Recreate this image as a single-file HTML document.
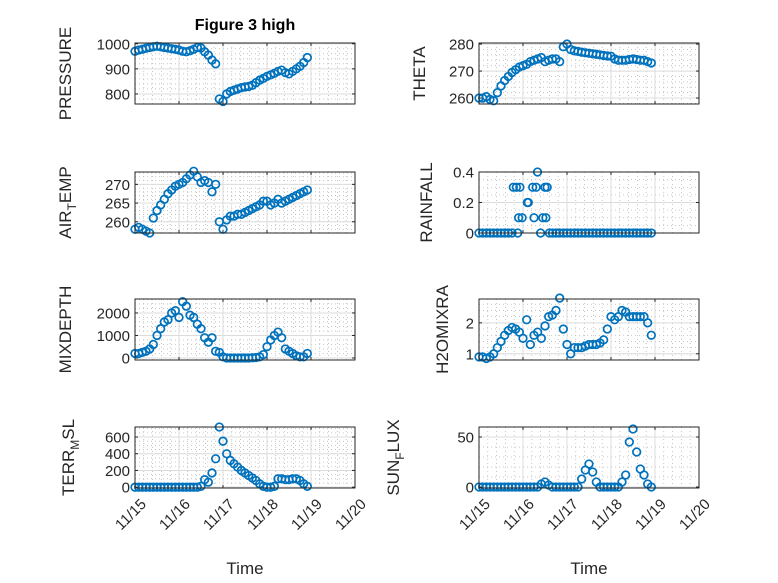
<!DOCTYPE html>
<html><head><meta charset="utf-8"><style>
body{margin:0;background:#fff;}
svg{display:block;font-family:"Liberation Sans","DejaVu Sans",sans-serif;}
</style></head><body>
<svg id="fig" width="778" height="583">
<rect width="778" height="583" fill="#fff"/>
<text x="245" y="30" text-anchor="middle" font-size="16" font-weight="bold" fill="#000">Figure 3 high</text>
</svg>
<script>
// time grid: days after 11/15, every 2 hours
const days = [];
for (let i = 0; i < 48; i++) days.push(i / 12);
const xTickLabels = ['11/15','11/16','11/17','11/18','11/19','11/20'];
const pressure = [970,975,978,982,985,988,990,988,985,983,980,978,975,970,968,972,978,985,983,968,955,935,920,780,770,800,810,815,820,825,828,830,835,845,855,862,870,876,882,890,895,885,880,890,900,910,925,945];
const airTemp = [258,258.5,258,257.5,257,261,263,264.5,266,267.5,268.5,269.5,270,270.5,271.5,272.5,273.5,272,270.5,271,270.5,268,270,260,258,260.5,261.5,261.5,262,262,262.5,263,263.5,264,264.5,265.5,265.5,264.5,265,266,265,265.5,266,266.5,267,267.5,268,268.5];
const theta = [260,260,260.5,259.5,259,262,264.5,266.5,268,269.5,270.5,271.5,272,272.5,273.5,274,274.5,275,273.5,274,274.5,274.5,273.5,279,280,278,277.5,277.3,277,276.8,276.6,276.4,276.2,276,275.8,275.6,275.5,274.5,274,274,274,274.3,274.5,274.3,274,274,273.5,273];
const mixDepth = [200,200,250,300,400,600,1000,1300,1600,1700,2000,2100,1800,2500,2300,1900,1800,1500,1300,900,700,900,300,250,50,0,0,0,0,0,0,0,10,20,50,150,500,800,1000,1150,900,400,300,200,100,50,50,200];
const h2o = [0.9,0.9,0.85,0.9,1.0,1.2,1.4,1.6,1.75,1.85,1.8,1.7,1.5,2.1,1.3,1.6,1.7,1.5,1.9,2.2,2.25,2.4,2.8,1.8,1.3,1.0,1.2,1.2,1.2,1.25,1.3,1.3,1.3,1.35,1.45,1.8,2.2,2.1,2.2,2.4,2.35,2.2,2.2,2.2,2.2,2.2,2.0,1.6];
const terr = [0,0,0,0,0,0,0,0,0,0,0,0,0,0,0,0,0,0,10,90,60,170,340,720,550,400,320,280,240,200,170,140,110,80,40,10,0,0,10,100,100,90,90,100,100,80,40,10];
const sun = [0,0,0,0,0,0,0,0,0,0,0,0,0,0,0,0,0,3,5,2,0,0,0,0,0,0,0,0,8,17,23,15,5,0,0,0,0,0,0,5,12,45,58,35,18,12,3,0];
const rainDays = [0,0.083,0.167,0.25,0.333,0.417,0.5,0.583,0.667,0.75,0.78,0.85,0.88,0.9,0.93,0.98,1.1,1.12,1.22,1.25,1.3,1.33,1.4,1.45,1.5,1.52,1.55,1.6,1.67,1.75,1.83,1.92,2,2.083,2.167,2.25,2.333,2.417,2.5,2.583,2.667,2.75,2.833,2.917,3,3.083,3.167,3.25,3.333,3.417,3.5,3.583,3.667,3.75,3.833,3.917];
const rainVals = [0,0,0,0,0,0,0,0,0,0,0.3,0.3,0,0.1,0.3,0.1,0.2,0.2,0.3,0.1,0.3,0.4,0,0.1,0.3,0.1,0.3,0,0,0,0,0,0,0,0,0,0,0,0,0,0,0,0,0,0,0,0,0,0,0,0,0,0,0,0,0];

const NS='http://www.w3.org/2000/svg';
const svg=document.getElementById('fig');
function mk(tag,attrs,parent){const e=document.createElementNS(NS,tag);for(const k in attrs)e.setAttribute(k,attrs[k]);(parent||svg).appendChild(e);return e;}
const panels=[
 {key:'pressure',x:135,y:43,ys:pressure,xs:days,min:760,max:1003,ticks:[800,900,1000],minor:20,label:'PRESSURE',lx:65},
 {key:'theta',x:479,y:43,ys:theta,xs:days,min:257.8,max:280.4,ticks:[260,270,280],minor:2,label:'THETA',lx:419},
 {key:'air-temp',x:135,y:172,ys:airTemp,xs:days,min:257,max:273.3,ticks:[260,265,270],minor:1,label:'AIR_TEMP',lx:65,sub:['AIR','T','EMP']},
 {key:'rainfall',x:479,y:172,ys:rainVals,xs:rainDays,min:0,max:0.4,ticks:[0,0.2,0.4],minor:0.05,label:'RAINFALL',lx:426},
 {key:'mixdepth',x:135,y:299,ys:mixDepth,xs:days,min:-90,max:2620,ticks:[0,1000,2000],minor:200,label:'MIXDEPTH',lx:65},
 {key:'h2omixra',x:479,y:299,ys:h2o,xs:days,min:0.8,max:2.77,ticks:[1,2],minor:0.2,label:'H2OMIXRA',lx:442},
 {key:'terr-msl',x:135,y:427,ys:terr,xs:days,min:-10,max:720,ticks:[0,200,400,600],minor:50,label:'TERR_MSL',lx:68,sub:['TERR','M','SL'],bottom:true},
 {key:'sun-flux',x:479,y:427,ys:sun,xs:days,min:-1,max:60,ticks:[0,50],minor:10,label:'SUN_FLUX',lx:393,sub:['SUN','F','LUX'],bottom:true}
];
const W=220,H=61;
panels.forEach(p=>{
 const g=mk('g',{});
 
 
 const sx=d=>p.x+d*W/5;
 const sy=v=>p.y+H-(v-p.min)/(p.max-p.min)*H;
 mk('rect',{x:p.x,y:p.y,width:W,height:H,fill:'#fff'},g);
 for(let d=0.2;d<5;d+=0.2){if(Math.abs(d-Math.round(d))<1e-6)continue;mk('line',{x1:sx(d),x2:sx(d),y1:p.y,y2:p.y+H,stroke:'#b8b8b8','stroke-width':0.8,'stroke-dasharray':'1,3'},g);}
 for(let v=Math.ceil(p.min/p.minor)*p.minor;v<=p.max;v+=p.minor){mk('line',{x1:p.x,x2:p.x+W,y1:sy(v),y2:sy(v),stroke:'#b8b8b8','stroke-width':0.8,'stroke-dasharray':'1,3'},g);}
 for(let d=1;d<5;d++)mk('line',{x1:sx(d),x2:sx(d),y1:p.y,y2:p.y+H,stroke:'#dcdcdc','stroke-width':1},g);
 p.ticks.forEach(v=>{
  mk('line',{x1:p.x,x2:p.x+W,y1:sy(v),y2:sy(v),stroke:'#dcdcdc','stroke-width':1},g);
  mk('line',{x1:p.x,x2:p.x+3,y1:sy(v),y2:sy(v),stroke:'#262626'},g);
  mk('line',{x1:p.x+W-3,x2:p.x+W,y1:sy(v),y2:sy(v),stroke:'#262626'},g);
  const t=mk('text',{x:p.x-5,y:sy(v)+5.5,'text-anchor':'end','font-size':15,fill:'#262626'},g);
  
  
  t.textContent=String(v);
 });
 for(let d=0;d<=5;d++){
  mk('line',{x1:sx(d),x2:sx(d),y1:p.y+H,y2:p.y+H-3,stroke:'#262626'},g);
  mk('line',{x1:sx(d),x2:sx(d),y1:p.y,y2:p.y+3,stroke:'#262626'},g);
  if(p.bottom){
   const t=mk('text',{x:0,y:0,'text-anchor':'end','font-size':15,fill:'#262626',transform:`translate(${sx(d)+12},${p.y+H+17}) rotate(-45)`},g);
   
   
   t.textContent=xTickLabels[d];
  }
 }
 for(let i=0;i<p.ys.length;i++){
  const c=mk('circle',{cx:sx(p.xs[i]),cy:sy(p.ys[i]),r:3.8,fill:'none',stroke:'#0072BD','stroke-width':1.7},g);
  
  
 }
 mk('rect',{x:p.x,y:p.y,width:W,height:H,fill:'none',stroke:'#262626','stroke-width':1},g);
 const cy=p.y+H/2;
 const yl=mk('text',{x:0,y:0,'text-anchor':'middle','font-size':17,fill:'#262626',transform:`translate(${p.lx+6},${cy}) rotate(-90)`},g);
 
 
 if(p.sub){
  const a=mk('tspan',{},yl);a.textContent=p.sub[0];
  const b=mk('tspan',{dy:5,'font-size':12},yl);b.textContent=p.sub[1];
  const c=mk('tspan',{dy:-5},yl);c.textContent=p.sub[2];
 } else yl.textContent=p.label;
 if(p.bottom){
  const tl=mk('text',{x:p.x+W/2,y:574,'text-anchor':'middle','font-size':17,fill:'#262626'},g);
  
  
  tl.textContent='Time';
 }
});
</script>
</body></html>
